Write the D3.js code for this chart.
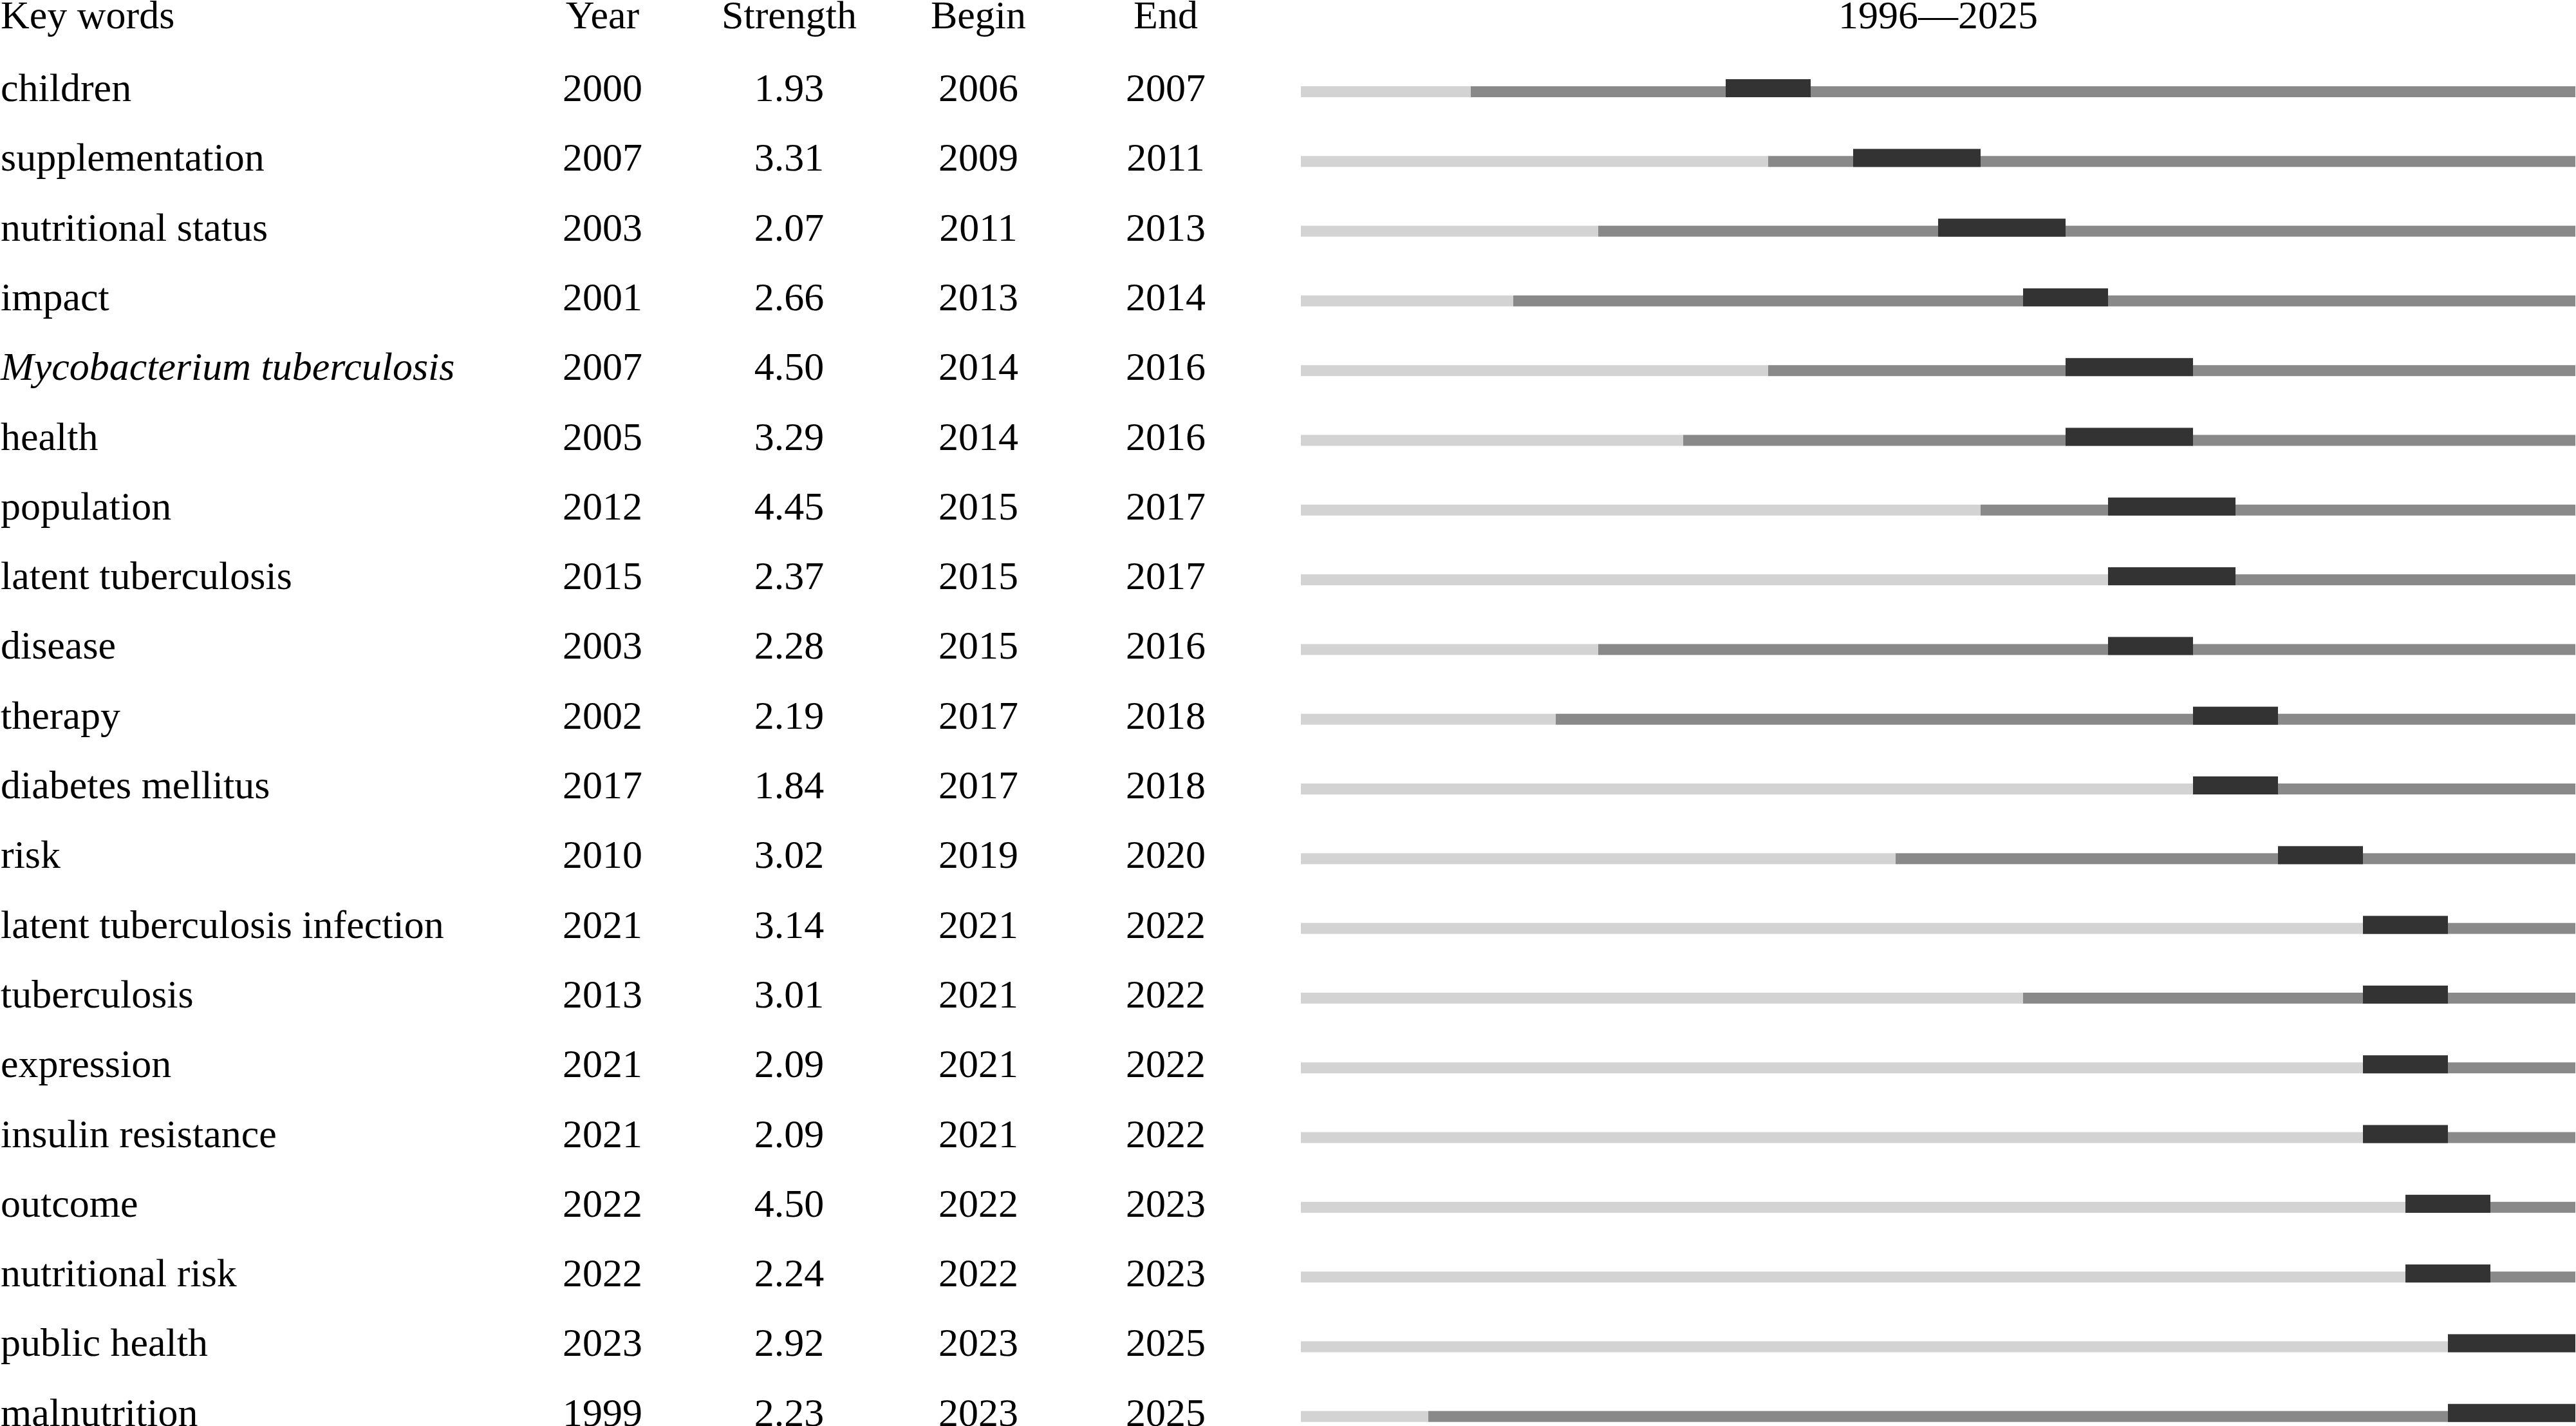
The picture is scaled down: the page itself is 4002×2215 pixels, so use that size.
<!DOCTYPE html>
<html>
<head>
<meta charset="utf-8">
<script src="https://cdn.jsdelivr.net/npm/d3@7"></script>
<style>
  body { margin: 0; background: #fff; }
  text { font-family: "Liberation Serif", "Times New Roman", serif; font-size: 62px; fill: #000; }
</style>
</head>
<body>
<svg id="burst" width="4002" height="2215"></svg>
<script>
// rows of the citation burst table
const keywords = [
  "children", "supplementation", "nutritional status", "impact",
  "Mycobacterium tuberculosis", "health", "population", "latent tuberculosis",
  "disease", "therapy", "diabetes mellitus", "risk",
  "latent tuberculosis infection", "tuberculosis", "expression", "insulin resistance",
  "outcome", "nutritional risk", "public health", "malnutrition"
];
const years = [2000, 2007, 2003, 2001, 2007, 2005, 2012, 2015, 2003, 2002, 2017, 2010, 2021, 2013, 2021, 2021, 2022, 2022, 2023, 1999];
const strengths = ["1.93", "3.31", "2.07", "2.66", "4.50", "3.29", "4.45", "2.37", "2.28", "2.19", "1.84", "3.02", "3.14", "3.01", "2.09", "2.09", "4.50", "2.24", "2.92", "2.23"];
const begins = [2006, 2009, 2011, 2013, 2014, 2014, 2015, 2015, 2015, 2017, 2017, 2019, 2021, 2021, 2021, 2021, 2022, 2022, 2023, 2023];
const ends = [2007, 2011, 2013, 2014, 2016, 2016, 2017, 2017, 2016, 2018, 2018, 2020, 2022, 2022, 2022, 2022, 2023, 2023, 2025, 2025];
const italicWords = ["Mycobacterium tuberculosis"];

const headers = ["Key words", "Year", "Strength", "Begin", "End"];
const firstYear = 1996;
const lastYear = 2025;

const genBurst = () => {
  const svg = d3.select("svg#burst");

  const rows = keywords.map((k, i) => ({
    key: k,
    year: years[i],
    strength: strengths[i],
    begin: begins[i],
    end: ends[i]
  }));

  // column centres (Key words is left aligned)
  const colX = { "Key words": 1, Year: 936, Strength: 1226, Begin: 1520, End: 1811 };

  const headY = 44;
  const yScale = d3
    .scalePoint()
    .domain(keywords)
    .range([157, 157 + 108.3 * (keywords.length - 1)]);

  // one unit per year, burst covers begin .. end+1
  const xScale = d3
    .scaleLinear()
    .domain([firstYear, lastYear + 1])
    .range([2021, 4001]);

  const thinH = 17;
  const burstH = 28;
  const gap = 6; // bar bottom sits this far above the text baseline

  // header
  svg.append("g")
    .selectAll("text")
    .data(headers)
    .join("text")
    .attr("x", (d) => colX[d])
    .attr("y", headY)
    .attr("text-anchor", (d) => (d === "Key words" ? "start" : "middle"))
    .text((d) => d);

  svg.append("text")
    .attr("x", (xScale(firstYear) + xScale(lastYear + 1)) / 2)
    .attr("y", headY)
    .attr("text-anchor", "middle")
    .text(`${firstYear}\u2014${lastYear}`);

  const rowG = svg
    .selectAll("g.row")
    .data(rows)
    .join("g")
    .attr("class", "row")
    .attr("transform", (d) => `translate(0,${yScale(d.key)})`);

  rowG.append("text")
    .attr("x", colX["Key words"])
    .style("font-style", (d) => (italicWords.includes(d.key) ? "italic" : "normal"))
    .text((d) => d.key);

  rowG.append("text").attr("x", colX.Year).attr("text-anchor", "middle").text((d) => d.year);
  rowG.append("text").attr("x", colX.Strength).attr("text-anchor", "middle").text((d) => d.strength);
  rowG.append("text").attr("x", colX.Begin).attr("text-anchor", "middle").text((d) => d.begin);
  rowG.append("text").attr("x", colX.End).attr("text-anchor", "middle").text((d) => d.end);

  //timeline: before the keyword appears
  rowG.append("rect")
    .attr("x", xScale(firstYear))
    .attr("y", -gap - thinH)
    .attr("width", (d) => xScale(d.year) - xScale(firstYear))
    .attr("height", thinH)
    .attr("fill", "#d3d3d3");

  //timeline: after it appears
  rowG.append("rect")
    .attr("x", (d) => xScale(d.year))
    .attr("y", -gap - thinH)
    .attr("width", (d) => xScale(lastYear + 1) - xScale(d.year))
    .attr("height", thinH)
    .attr("fill", "#898989");

  //burst
  rowG.append("rect")
    .attr("x", (d) => xScale(d.begin))
    .attr("y", -gap - burstH)
    .attr("width", (d) => xScale(d.end + 1) - xScale(d.begin))
    .attr("height", burstH)
    .attr("fill", "#333333");
};

genBurst();
</script>
</body>
</html>
